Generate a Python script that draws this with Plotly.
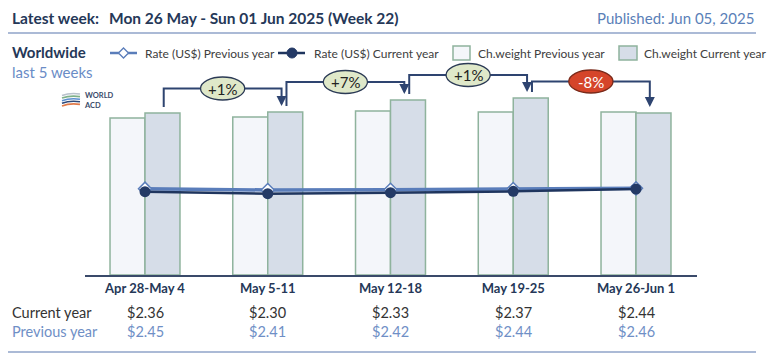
import plotly.graph_objects as go

# ---------------- data ----------------
weeks = ["Apr 28-May 4", "May 5-11", "May 12-18", "May 19-25", "May 26-Jun 1"]
chw_prev = [157, 158, 164, 163, 163]   # chargeable weight index, previous year
chw_curr = [162, 163, 175, 177, 162]   # chargeable weight index, current year
rate_prev = [2.45, 2.41, 2.42, 2.44, 2.46]
rate_curr = [2.36, 2.30, 2.33, 2.37, 2.44]
pct_labels = ["+1%", "+7%", "+1%", "-8%"]

# ---------------- layout helpers ----------------
W, H = 770, 358
L, R, T, B = 85, 73, 60, 83
PW, PH = W - L - R, H - T - B
FONT = "Lato"


def px(x):
    return (x - L) / PW


def py(y):
    return (H - B - y) / PH


NAVY = "#253858"
CONN = "#2e4470"
GREEN_BORDER = "#8fb39d"
xs = list(range(len(weeks)))

fig = go.Figure()
fig.add_trace(go.Bar(x=xs, y=chw_prev, name="Ch.weight Previous year",
                     marker=dict(color="#f4f6fa", line=dict(color=GREEN_BORDER, width=1.5))))
fig.add_trace(go.Bar(x=xs, y=chw_curr, name="Ch.weight Current year",
                     marker=dict(color="#d6dde8", line=dict(color=GREEN_BORDER, width=1.5))))
fig.add_trace(go.Scatter(x=xs, y=rate_prev, yaxis="y2", mode="lines+markers",
                         name="Rate (US$) Previous year",
                         line=dict(color="#5a7dba", width=3.5),
                         marker=dict(symbol="diamond", size=10, color="white",
                                     line=dict(color="#5a7dba", width=1.5))))
fig.add_trace(go.Scatter(x=xs, y=rate_curr, yaxis="y2", mode="lines+markers",
                         name="Rate (US$) Current year",
                         line=dict(color="#1f355e", width=2.5),
                         marker=dict(symbol="circle", size=11, color="#243a66")))

shapes = []
annotations = []


def txt(x, y, text, size, color, xanchor="left", xref="paper", **kw):
    annotations.append(dict(x=x, y=y, xref=xref, yref="paper", text=text,
                            showarrow=False, xanchor=xanchor, yanchor="middle",
                            font=dict(family=FONT, size=size, color=color), **kw))


# ---- connectors with % change ovals ----
bw = 0.285
for i, lab in enumerate(pct_labels):
    x0 = i + bw / 2 + 0.01
    x1 = i + 1 + bw / 2 - 0.03
    ys = chw_curr[i] + 6
    ye = chw_curr[i + 1] + 6
    lvl = (chw_curr[i] + chw_curr[i + 1]) / 2 + 24
    shapes.append(dict(type="path", xref="x", yref="y",
                       path=f"M {x0},{ys} L {x0},{lvl} L {x1},{lvl} L {x1},{ye + 8}",
                       line=dict(color=CONN, width=2), layer="above"))
    annotations.append(dict(x=x1, y=ye, xref="x", yref="y", ax=x1, ay=ye + 10,
                            axref="x", ayref="y", text="", showarrow=True,
                            arrowhead=2, arrowsize=1, arrowwidth=2, arrowcolor=CONN))
    xm = (x0 + x1) / 2
    neg = lab.startswith("-")
    shapes.append(dict(type="circle", xref="x", yref="y",
                       x0=xm - 0.18, x1=xm + 0.18, y0=lvl - 11.5, y1=lvl + 11.5,
                       fillcolor="#d5452a" if neg else "#dfe8c9",
                       line=dict(color="#7a2a1a" if neg else "#2b3a55", width=1.3),
                       layer="above"))
    annotations.append(dict(x=xm, y=lvl, xref="x", yref="y", text=lab, showarrow=False,
                            xanchor="center", yanchor="middle",
                            font=dict(family=FONT, size=15,
                                      color="white" if neg else "#222222")))

# ---- header ----
txt(px(10), py(18), "<b>Latest week:</b>", 15.5, NAVY)
txt(px(107), py(18), "<b>Mon 26 May - Sun 01 Jun 2025 (Week 22)</b>", 15.5, NAVY)
txt(px(756), py(18), "Published: Jun 05, 2025", 15, "#5a7fb8", xanchor="right")
txt(px(10), py(52), "<b>Worldwide</b>", 15, NAVY)
txt(px(10), py(72), "last 5 weeks", 15, "#6a8cc6")
shapes.append(dict(type="line", xref="paper", yref="paper", x0=px(8), x1=px(756),
                   y0=py(33), y1=py(33), line=dict(color="#8fa3c8", width=1.5)))
shapes.append(dict(type="line", xref="paper", yref="paper", x0=px(8), x1=px(756),
                   y0=py(352), y1=py(352), line=dict(color="#8fa3c8", width=1.5)))

# ---- legend (manual) ----
LEG_Y = 53
LEG_C = "#404040"
shapes.append(dict(type="line", xref="paper", yref="paper", x0=px(110), x1=px(137),
                   y0=py(LEG_Y), y1=py(LEG_Y), line=dict(color="#5a7dba", width=2.5)))
shapes.append(dict(type="path", xref="paper", yref="paper",
                   path=f"M {px(118.5)},{py(LEG_Y)} L {px(123.5)},{py(LEG_Y-5)} L {px(128.5)},{py(LEG_Y)} L {px(123.5)},{py(LEG_Y+5)} Z",
                   fillcolor="white", line=dict(color="#5a7dba", width=1.3)))
txt(px(143), py(LEG_Y), "Rate (US$) Previous year", 12, LEG_C)
shapes.append(dict(type="line", xref="paper", yref="paper", x0=px(278), x1=px(305),
                   y0=py(LEG_Y), y1=py(LEG_Y), line=dict(color="#1f355e", width=2.5)))
shapes.append(dict(type="circle", xref="paper", yref="paper",
                   x0=px(287), x1=px(297), y0=py(LEG_Y - 5), y1=py(LEG_Y + 5),
                   fillcolor="#243a66", line=dict(color="#243a66", width=1)))
txt(px(312), py(LEG_Y), "Rate (US$) Current year", 12, LEG_C)
shapes.append(dict(type="rect", xref="paper", yref="paper",
                   x0=px(453), x1=px(470), y0=py(LEG_Y - 7), y1=py(LEG_Y + 7),
                   fillcolor="#f4f6fa", line=dict(color=GREEN_BORDER, width=1.5)))
txt(px(476), py(LEG_Y), "Ch.weight Previous year", 12, LEG_C)
shapes.append(dict(type="rect", xref="paper", yref="paper",
                   x0=px(619), x1=px(637), y0=py(LEG_Y - 7), y1=py(LEG_Y + 7),
                   fillcolor="#d6dde8", line=dict(color=GREEN_BORDER, width=1.5)))
txt(px(642), py(LEG_Y), "Ch.weight Current year", 12, LEG_C)

# ---- logo (approximation) ----
logo_cols = ["#b9c2cc", "#7fb08a", "#5b8fd0", "#2e4a7a", "#e07a4a"]
for k, c in enumerate(logo_cols):
    yy = 94 + k * 2.6
    shapes.append(dict(type="path", xref="paper", yref="paper",
                       path=f"M {px(62)},{py(yy + 1.5)} Q {px(70)},{py(yy - 1.5)} {px(80)},{py(yy)}",
                       line=dict(color=c, width=1.6)))
txt(px(82), py(100), "<b>WORLD<br>ACD</b>", 7.5, "#3a4a6a", align="left")

# ---- table below axis ----
txt(px(10), py(312), "Current year", 14.5, "#333333")
txt(px(10), py(331), "Previous year", 14.5, "#6f8fc6")
for i in xs:
    txt(i, py(312), f"${rate_curr[i]:.2f}", 14.5, "#333333", xanchor="center", xref="x")
    txt(i, py(331), f"${rate_prev[i]:.2f}", 14.5, "#6f8fc6", xanchor="center", xref="x")

fig.update_layout(
    width=W, height=H,
    margin=dict(l=L, r=R, t=T, b=B, pad=0),
    paper_bgcolor="white", plot_bgcolor="white",
    showlegend=False,
    barmode="group", bargap=0.43, bargroupgap=0,
    font=dict(family=FONT),
    xaxis=dict(range=[(85 - 145) / 122.75, (697 - 145) / 122.75],
               tickmode="array", tickvals=xs, ticktext=[f"<b>{w}</b>" for w in weeks],
               tickfont=dict(family=FONT, size=13, color=NAVY),
               showline=True, linecolor="#3a4a6a", linewidth=2,
               ticks="", showgrid=False, zeroline=False, fixedrange=True),
    yaxis=dict(range=[0, PH], visible=False, showgrid=False, zeroline=False, fixedrange=True),
    yaxis2=dict(range=[(271 - 275) / 33.6, (271 - 60) / 33.6], overlaying="y",
                visible=False, showgrid=False, zeroline=False, fixedrange=True),
    shapes=shapes,
    annotations=annotations,
)

fig.write_html("out.html", config={"displayModeBar": False},
               post_script="document.body.style.margin='0';document.body.style.overflow='hidden';")
